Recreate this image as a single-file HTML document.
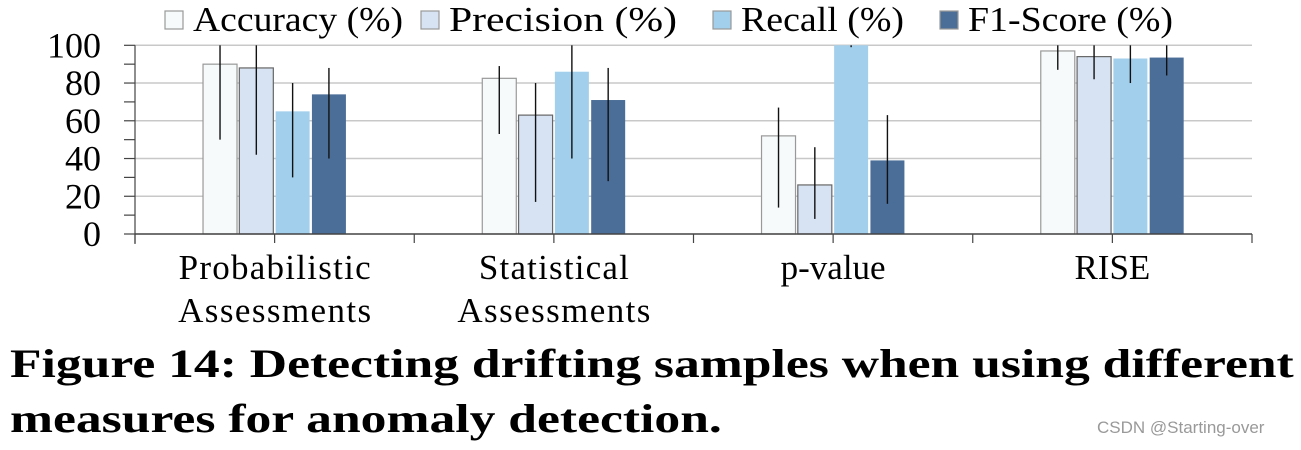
<!DOCTYPE html>
<html><head><meta charset="utf-8"><style>
body{margin:0;background:#fff;width:1301px;height:450px;overflow:hidden;position:relative;font-family:"Liberation Serif",serif}
svg{position:absolute;left:0;top:0}
.cap{position:absolute;left:10px;font-weight:bold;font-size:40px;color:#000;white-space:nowrap;transform:scaleX(1.29);transform-origin:0 0}
</style></head><body>
<svg width="1301" height="450" id="chart"></svg>
<div class="cap" style="top:340px">Figure 14: Detecting drifting samples when using different</div>
<div class="cap" style="top:395px">measures for anomaly detection.</div>
<div style="position:absolute;left:1097px;top:418px;font-family:'Liberation Sans',sans-serif;font-size:17px;color:#999">CSDN @Starting-over</div>
<script>
const categories=[["Probabilistic","Assessments"],["Statistical","Assessments"],["p-value"],["RISE"]];
const seriesNames=["Accuracy (%)","Precision (%)","Recall (%)","F1-Score (%)"];
const accuracy=[90,82.5,52,97];
const precision=[88,63,26,94];
const recall=[65,86,100,93];
const f1=[74,71,39,93.5];
const accLo=[50,53,14,87], accHi=[100,89,67,100];
const preLo=[42,17,8,82], preHi=[100,80,46,100];
const recLo=[30,40,99,80], recHi=[80,100,100,100];
const f1Lo=[40,28,16,84], f1Hi=[88,88,63,100];
const yTicks=[0,20,40,60,80,100];
const series=[accuracy,precision,recall,f1], los=[accLo,preLo,recLo,f1Lo], his=[accHi,preHi,recHi,f1Hi];
const fills=["#f6fafb","#d7e3f3","#a2cfec","#4b6e98"], strokes=["#999","#666","none","none"];
const NS="http://www.w3.org/2000/svg", svg=document.getElementById('chart');
const X0=135,X1=1252,Y0=234,Y100=45.3;
const y=v=>Y0-(Y0-Y100)*v/100;
const catW=(X1-X0)/categories.length;
const cx=i=>X0+catW*(i+0.5);
function mk(t,a){const e=document.createElementNS(NS,t);for(const k in a)e.setAttribute(k,a[k]);svg.appendChild(e);return e;}
yTicks.forEach(t=>{
 if(t>0){const g=mk('line',{x1:X0,x2:X1,y1:y(t),y2:y(t),stroke:'#c8c8c8','stroke-width':1.5});
 
 }
 const l=mk('text',{x:101,y:y(t)+12,'text-anchor':'end','font-size':36,'font-family':'Liberation Serif'});l.textContent=t;
 
 
});
for(let v=0;v<=100;v+=10){const m=mk('line',{x1:X0-11,x2:X0,y1:y(v),y2:y(v),stroke:'#444','stroke-width':1.2});
 
 }
const ya=mk('line',{x1:X0,x2:X0,y1:Y100,y2:Y0+10,stroke:'#444','stroke-width':1.2});


const bw=34,step=36.3;
categories.forEach((c,i)=>{
 series.forEach((s,j)=>{
  const bx=cx(i)+(j-2)*step+1;
  const r=mk('rect',{x:bx,y:y(s[i]),width:bw,height:Y0-y(s[i]),fill:fills[j],stroke:strokes[j],'stroke-width':1.2});
  
  
  const e=mk('line',{x1:bx+bw/2,x2:bx+bw/2,y1:y(his[j][i]),y2:y(los[j][i]),stroke:'#111','stroke-width':1.4});
  
  
 });
 c.forEach((ln,k)=>{const t=mk('text',{x:cx(i),y:279+k*43,'text-anchor':'middle','font-size':35,'font-family':'Liberation Serif',textLength:ln.length>8?(ln==='Probabilistic'?192:(ln==='Statistical'?150:193)):null});
  if(!t.getAttribute('textLength')||t.getAttribute('textLength')==='null')t.removeAttribute('textLength');
  t.textContent=ln;
  
  });
});
const xa=mk('line',{x1:X0,x2:X1,y1:Y0,y2:Y0,stroke:'#444','stroke-width':1.4});


for(let k=0;k<=categories.length*2;k++){const xx=X0+k*catW/2;const t=mk('line',{x1:xx,x2:xx,y1:Y0,y2:Y0+9,stroke:'#444','stroke-width':1.2});
 
 }
const lx=[165,421,713,940];
const lw=[210,228,163,205];
seriesNames.forEach((n,j)=>{
 const r=mk('rect',{x:lx[j],y:11,width:18,height:18,fill:fills[j],stroke:'#999','stroke-width':1.2});
 
 
 const t=mk('text',{x:lx[j]+28,y:31,'font-size':35,'font-family':'Liberation Serif',textLength:lw[j],lengthAdjust:'spacingAndGlyphs'});t.textContent=n;
 
 
});
</script>
</body></html>
